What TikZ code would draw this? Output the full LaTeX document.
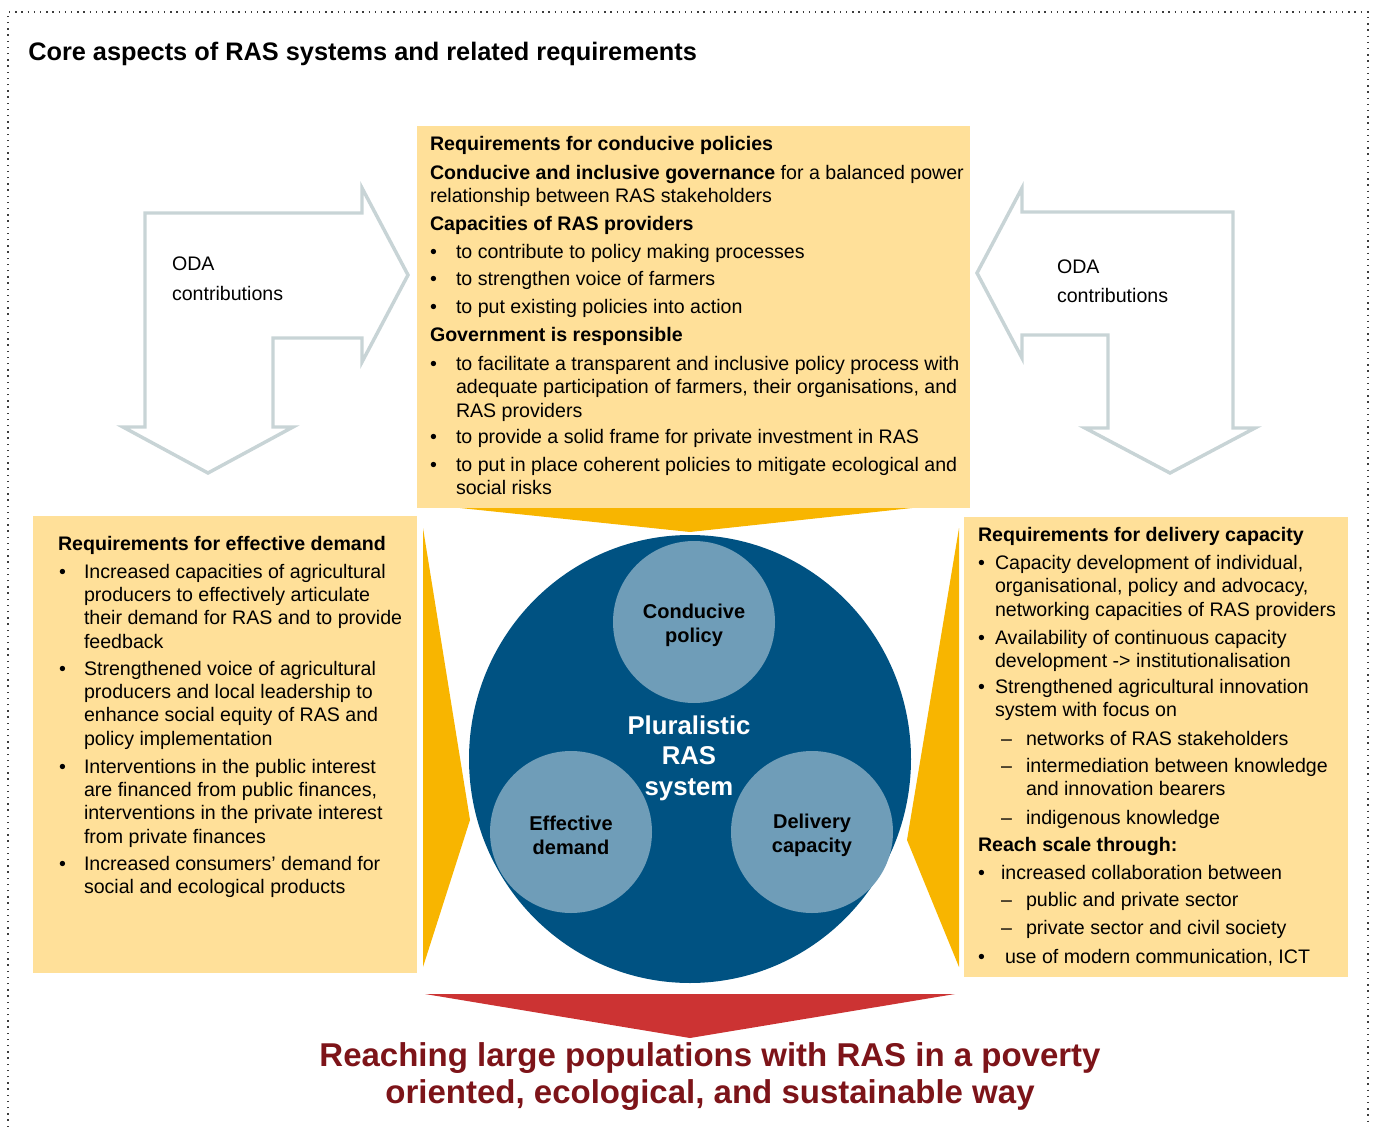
\documentclass[tikz,border=0pt]{standalone}
\usepackage{fontspec}
\setmainfont{Liberation Sans}
\definecolor{boxy}{RGB}{255,224,153}
\definecolor{orng}{RGB}{248,181,0}
\definecolor{dblue}{RGB}{0,82,130}
\definecolor{lblue}{RGB}{111,157,184}
\definecolor{odagray}{RGB}{200,212,214}
\definecolor{redtri}{RGB}{204,51,51}
\definecolor{redtxt}{RGB}{125,20,25}
\definecolor{framegray}{RGB}{60,60,60}
\newcommand\bodyfs{\fontsize{14.7}{17.6}\selectfont}
\begin{document}
\begin{tikzpicture}[x=0.75pt,y=-0.75pt,
  txt/.style={anchor=base west,inner sep=0pt,outer sep=0pt,align=left,font=\bodyfs},
  hd/.style={txt,font=\bodyfs\bfseries},
  bul/.style={anchor=base west,inner sep=0pt,outer sep=0pt,font=\bodyfs},
  ybox/.style={fill=boxy},
  otri/.style={fill=orng},
  odaarrow/.style={draw=odagray,line width=2.6pt,line join=miter},
  smallc/.style={circle,fill=lblue,minimum size=121.5pt,inner sep=0pt},
  ctext/.style={align=center,inner sep=0pt,font=\bfseries\fontsize{15}{18}\selectfont},
  frame/.style={draw=framegray,line width=1pt,dash pattern=on 1pt off 3.65pt}
]
\useasboundingbox (0,0) rectangle (1375,1127);
% frame
\draw[frame] (8,1127) -- (8,12) -- (1368,12) -- (1368,1127);
% title
\node[anchor=base west,inner sep=0pt,font=\bfseries\fontsize{19}{23}\selectfont] (title) at (28,61)
  {Core aspects of RAS systems and related requirements};

% ODA arrows
\draw[odaarrow] (145,213) -- (362,213) -- (362,188) -- (408,275) -- (362,362) -- (362,338)
  -- (273,338) -- (273,427) -- (293,427) -- (208,473) -- (123,427) -- (145,427) -- cycle;
\draw[odaarrow] (977,273) -- (1022,188) -- (1022,212) -- (1233,212) -- (1233,428) -- (1255,428)
  -- (1170,473) -- (1085,428) -- (1108,428) -- (1108,335) -- (1022,335) -- (1022,358) -- cycle;
\node[txt] (odaL) at (172,271) {ODA};
\node[txt] (contL) at (172,300) {contributions};
\node[txt] (odaR) at (1057,273) {ODA};
\node[txt] (contR) at (1057,302) {contributions};

% boxes
\path[ybox] (417,126) rectangle (970,508);
\path[ybox] (33,516) rectangle (417,973);
\path[ybox] (964,517) rectangle (1348,977);

% orange pointers
\path[otri] (460,508) -- (912,508) -- (690,532) -- cycle;
\path[otri] (423,528) -- (470,820) -- (423,967) -- cycle;
\path[otri] (959,528) -- (907,840) -- (959,967) -- cycle;

% center system
\fill[dblue] (690,759) ellipse [x radius=221, y radius=224];
\node[smallc] (cpol) at (694,622) {};
\node[smallc] (edem) at (571,832) {};
\node[smallc] (dcap) at (812,832) {};
\node[ctext] (cpolt) at (694,625) {Conducive\\policy};
\node[ctext] (edemt) at (571,835) {Effective\\demand};
\node[ctext] (dcapt) at (812,835) {Delivery\\capacity};
\node[text=white,align=center,inner sep=0pt,font=\bfseries\fontsize{19.3}{22.9}\selectfont] (plur) at (689,758)
  {Pluralistic\\RAS\\system};

% bottom
\path[fill=redtri] (425,994) -- (955,994) -- (690,1038) -- cycle;
\node[text=redtxt,align=center,inner sep=0pt,font=\bfseries\fontsize{24.75}{27.75}\selectfont] (goal) at (710,1076.5)
  {Reaching large populations with RAS in a poverty\\oriented, ecological, and sustainable way};

% top box text (base anchor of multi-line nodes = last line)
\node[hd] (t1) at (430,151) {Requirements for conducive policies};
\node[txt] (t2) at (430,202.5) {\textbf{Conducive and inclusive governance} for a balanced power\\relationship between RAS stakeholders};
\node[hd] (t3) at (430,230) {Capacities of RAS providers};
\node[bul] (tb1) at (430,258) {\textbullet};
\node[txt] (t4) at (456,258) {to contribute to policy making processes};
\node[bul] (tb2) at (430,285) {\textbullet};
\node[txt] (t5) at (456,285) {to strengthen voice of farmers};
\node[bul] (tb3) at (430,313) {\textbullet};
\node[txt] (t6) at (456,313) {to put existing policies into action};
\node[hd] (t7) at (430,341) {Government is responsible};
\node[bul] (tb4) at (430,370) {\textbullet};
\node[txt] (t8) at (456,417) {to facilitate a transparent and inclusive policy process with\\adequate participation of farmers, their organisations, and\\RAS providers};
\node[bul] (tb5) at (430,443) {\textbullet};
\node[txt] (t9) at (456,443) {to provide a solid frame for private investment in RAS};
\node[bul] (tb6) at (430,471) {\textbullet};
\node[txt] (t10) at (456,494.5) {to put in place coherent policies to mitigate ecological and\\social risks};

% left box text
\node[hd] (l1) at (58,550) {Requirements for effective demand};
\node[bul] (lb1) at (59,578) {\textbullet};
\node[txt] (l2) at (84,648.4) {Increased capacities of agricultural\\producers to effectively articulate\\their demand for RAS and to provide\\feedback};
\node[bul] (lb2) at (59,675) {\textbullet};
\node[txt] (l3) at (84,745.4) {Strengthened voice of agricultural\\producers and local leadership to\\enhance social equity of RAS and\\policy implementation};
\node[bul] (lb3) at (59,773) {\textbullet};
\node[txt] (l4) at (84,843.4) {Interventions in the public interest\\are financed from public finances,\\interventions in the private interest\\from private finances};
\node[bul] (lb4) at (59,870) {\textbullet};
\node[txt] (l5) at (84,893.5) {Increased consumers’ demand for\\social and ecological products};

% right box text
\node[hd] (r1) at (978,541) {Requirements for delivery capacity};
\node[bul] (rb1) at (978,569) {\textbullet};
\node[txt] (r2) at (995,616) {Capacity development of individual,\\organisational, policy and advocacy,\\networking capacities of RAS providers};
\node[bul] (rb2) at (978,644) {\textbullet};
\node[txt] (r3) at (995,667.5) {Availability of continuous capacity\\development -> institutionalisation};
\node[bul] (rb3) at (978,693) {\textbullet};
\node[txt] (r4) at (995,716.5) {Strengthened agricultural innovation\\system with focus on};
\node[bul] (rd1) at (1001,745) {\textendash};
\node[txt] (r5) at (1026,745) {networks of RAS stakeholders};
\node[bul] (rd2) at (1001,772) {\textendash};
\node[txt] (r6) at (1026,795.5) {intermediation between knowledge\\and innovation bearers};
\node[bul] (rd3) at (1001,824) {\textendash};
\node[txt] (r7) at (1026,824) {indigenous knowledge};
\node[hd] (r8) at (978,851) {Reach scale through:};
\node[bul] (rb4) at (978,879) {\textbullet};
\node[txt] (r9) at (1001,879) {increased collaboration between};
\node[bul] (rd4) at (1001,906) {\textendash};
\node[txt] (r10) at (1026,906) {public and private sector};
\node[bul] (rd5) at (1001,934) {\textendash};
\node[txt] (r11) at (1026,934) {private sector and civil society};
\node[bul] (rb5) at (978,963) {\textbullet};
\node[txt] (r12) at (1005,963) {use of modern communication, ICT};
\end{tikzpicture}
\end{document}
